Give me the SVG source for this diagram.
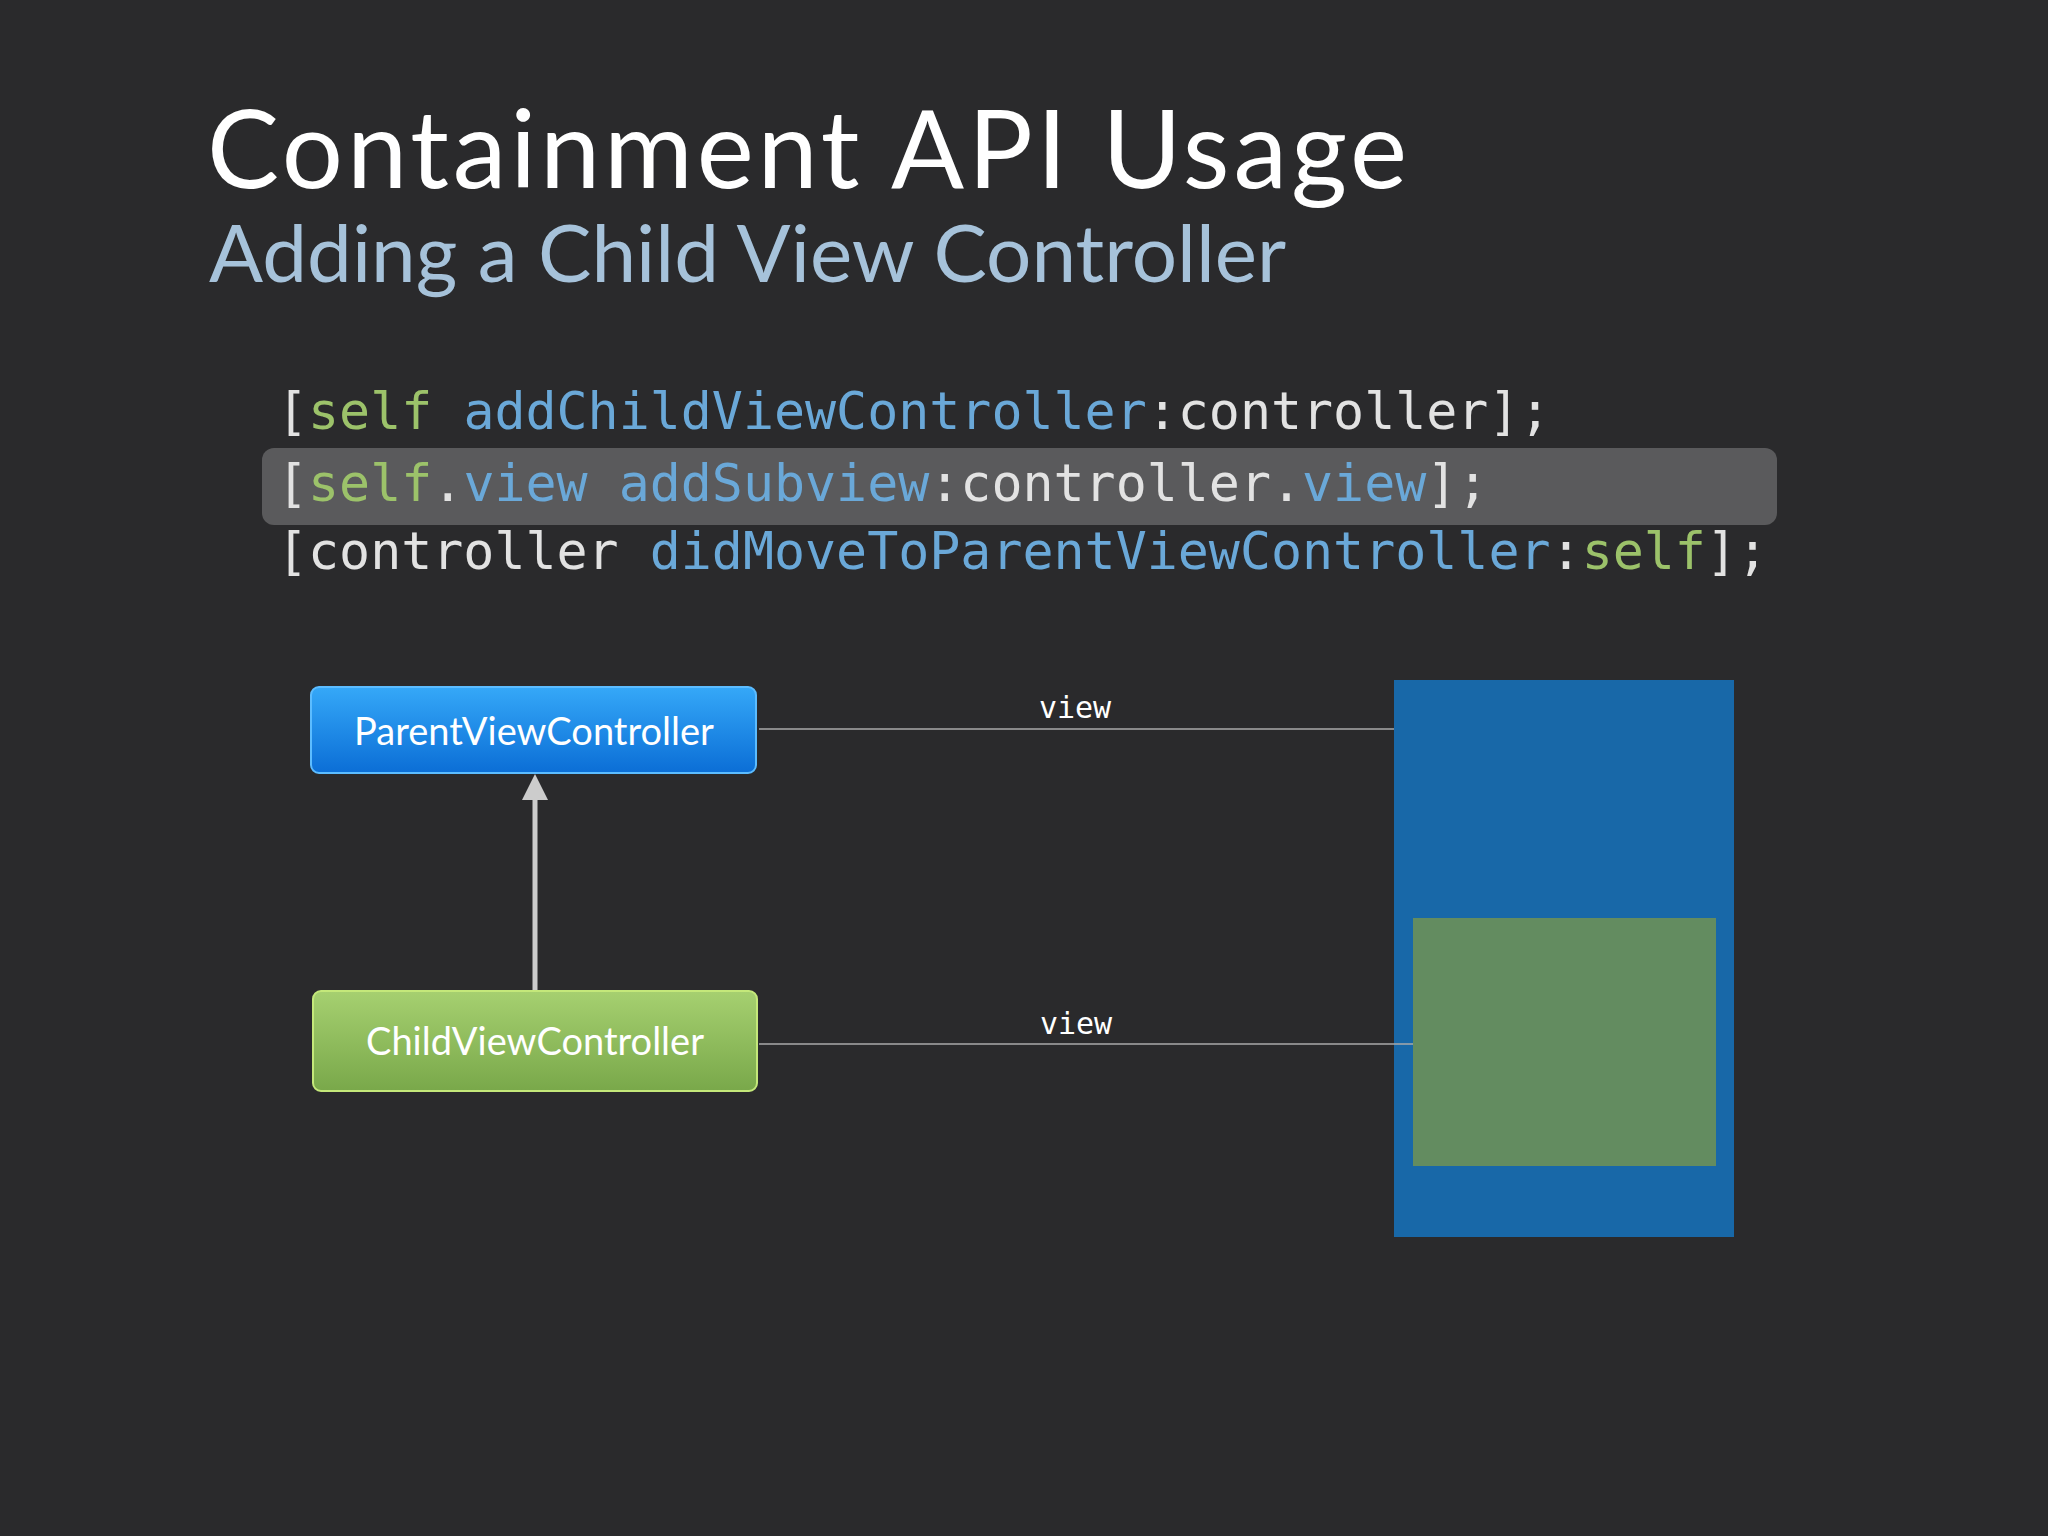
<svg xmlns="http://www.w3.org/2000/svg" width="2048" height="1536" viewBox="0 0 2048 1536">
<defs>
<linearGradient id="gb" x1="0" y1="0" x2="0" y2="1"><stop offset="0" stop-color="#35a8f8"/><stop offset="1" stop-color="#0b6ed6"/></linearGradient>
<linearGradient id="gg" x1="0" y1="0" x2="0" y2="1"><stop offset="0" stop-color="#a6d070"/><stop offset="1" stop-color="#79a84a"/></linearGradient>
<style>
.code{font-family:"DejaVu Sans Mono","Liberation Mono",monospace;font-size:51.6px;fill:#e2e2e2}
.s{fill:#9cc26a}.m{fill:#6aa8d8}
.lbl{font-family:"Lato","Open Sans",sans-serif;font-size:38px;fill:#ffffff}
.v{font-family:"DejaVu Sans Mono",monospace;font-size:30px;fill:#ffffff}
</style>
</defs>
<rect width="2048" height="1536" fill="#2a2a2c"/>
<text x="207" y="188" font-family="Lato,'Open Sans',sans-serif" font-size="108" fill="#ffffff" textLength="1200" lengthAdjust="spacing">Containment API Usage</text>
<text x="209" y="282" font-family="Lato,'Open Sans',sans-serif" font-size="80" fill="#a6c2da">Adding a Child View Controller</text>
<rect x="262" y="448" width="1515" height="77" rx="12" fill="#5a5a5c"/>
<text class="code" x="277" y="429">[<tspan class="s">self</tspan> <tspan class="m">addChildViewController</tspan>:controller];</text>
<text class="code" x="277" y="501">[<tspan class="s">self</tspan>.<tspan class="m">view</tspan> <tspan class="m">addSubview</tspan>:controller.<tspan class="m">view</tspan>];</text>
<text class="code" x="277" y="569">[controller <tspan class="m">didMoveToParentViewController</tspan>:<tspan class="s">self</tspan>];</text>
<g id="screen"><rect x="1394" y="680" width="340" height="557" fill="#1868a8"/></g>
<g id="childview"><rect x="1413" y="918" width="303" height="248" fill="#638c60"/></g>
<g id="connectors" stroke="#aaaaaa" stroke-width="1.5">
<line x1="759" y1="729" x2="1394" y2="729"/>
<line x1="759" y1="1044" x2="1413" y2="1044"/>
<line x1="535" y1="990" x2="535" y2="798" stroke="#cccccc" stroke-width="5"/>
<polygon points="535,774 522,800 548,800" fill="#cccccc" stroke="none"/>
</g>
<text class="v" x="1075" y="718" text-anchor="middle">view</text>
<text class="v" x="1076" y="1034" text-anchor="middle">view</text>
<g id="parent"><rect x="311" y="687" width="445" height="86" rx="8" fill="url(#gb)" stroke="#5cbcff" stroke-width="2"/><text class="lbl" x="534" y="745" text-anchor="middle">ParentViewController</text></g>
<g id="child"><rect x="313" y="991" width="444" height="100" rx="8" fill="url(#gg)" stroke="#c4e87a" stroke-width="2"/><text class="lbl" x="535" y="1055" text-anchor="middle">ChildViewController</text></g>
</svg>
